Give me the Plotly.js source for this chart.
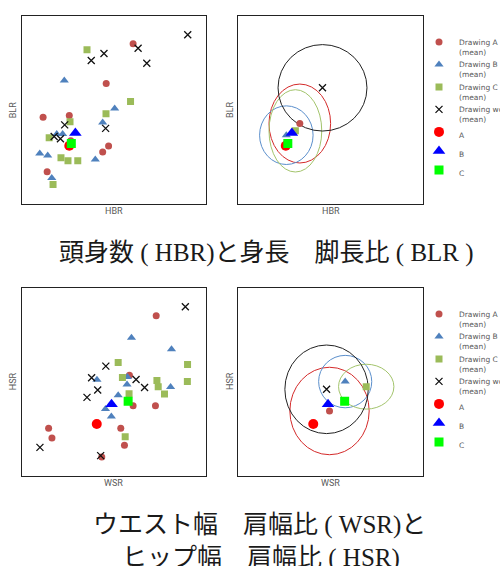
<!DOCTYPE html>
<html>
<head>
<meta charset="utf-8">
<script src="https://cdn.plot.ly/plotly-3.0.1.min.js"></script>
<style>html,body{margin:0;padding:0;background:#fff;}#chart{width:500px;height:566px;}</style>
</head>
<body>
<div id="chart"></div>
<script>
// ---- data (relative units) ----
const groupNames = ['Drawing A', 'Drawing B', 'Drawing C', 'Drawing work'];
const refNames = ['A', 'B', 'C'];

// HBR vs BLR (individual drawings)
const hbrA = [60.5, 45.9, 11.7, 25.9, 47.2, 44.0, 13.9, 26.7];
const blrA = [85.1, 64.0, 46.1, 47.0, 30.7, 27.5, 17.0, 33.5];
const hbrB = [23.2, 50.5, 44.0, 19.1, 22.3, 9.9, 14.2, 40.0, 16.4];
const blrB = [65.6, 50.7, 43.3, 37.1, 37.1, 26.8, 25.7, 23.6, 13.7];
const hbrC = [35.5, 59.1, 45.8, 26.3, 15.0, 21.4, 25.2, 30.5, 17.1];
const blrC = [81.9, 54.4, 47.9, 43.6, 35.1, 24.5, 22.9, 22.9, 10.3];
const hbrW = [90.1, 63.2, 67.9, 37.8, 44.7, 23.4, 45.6, 17.7, 21.1];
const blrW = [89.9, 82.8, 74.8, 76.2, 80.0, 42.0, 40.1, 35.8, 34.6];
// group means and spreads (A, B, C, work)
const hbrMean = [33.5, 26.2, 31.1, 45.8];
const blrMean = [42.7, 36.5, 38.8, 61.7];
const hbrSpread = [16.7, 14.5, 14.3, 24.1];
const blrSpread = [21.0, 15.6, 21.9, 23.0];
// reference figures A, B, C
const hbrRef = [25.9, 29.2, 27.0];
const blrRef = [30.9, 37.7, 32.1];

// WSR vs HSR (individual drawings)
const wsrA = [73.0, 58.5, 60.5, 72.6, 53.8, 14.7, 16.5, 55.8, 43.5];
const hsrA = [85.0, 53.5, 37.3, 37.3, 25.4, 25.4, 20.1, 16.3, 10.1];
const wsrB = [59.6, 81.3, 40.9, 57.4, 57.2, 80.8, 52.4, 45.5, 48.7];
const hsrB = [73.3, 67.3, 51.1, 52.5, 48.6, 47.2, 42.8, 35.5, 31.6];
const wsrC = [52.4, 90.0, 54.7, 73.4, 89.9, 74.1, 58.3, 77.5, 56.2];
const hsrC = [60.2, 59.2, 52.3, 50.7, 50.2, 47.3, 43.6, 43.5, 20.8];
const wsrW = [88.8, 45.7, 38.0, 62.1, 41.3, 66.7, 35.5, 10.0, 42.9];
const hsrW = [89.8, 58.3, 52.1, 51.2, 45.6, 47.0, 41.7, 15.2, 10.8];
const wsrMean = [49.6, 58.1, 69.5, 48.0];
const hsrMean = [34.5, 50.1, 47.4, 46.0];
const wsrSpread = [21.5, 14.4, 15.0, 22.6];
const hsrSpread = [23.2, 13.9, 11.9, 23.5];
const wsrRef = [40.8, 48.8, 57.8];
const hsrRef = [27.6, 38.1, 39.6];

// ---- styles ----
const grpColors = ['#c0504d', '#4f81bd', '#9bbb59', '#111111'];
const grpSymbols = ['circle', 'triangle-up', 'square', 'x-thin-open'];
const grpSizes = [7, 8, 7, 7];
const ellColors = ['#d42a2a', '#5b8fcc', '#a3c46c', '#222222'];
const refColors = ['#ff0000', '#0000ff', '#00ff00'];
const refSymbols = ['circle', 'triangle-up', 'square'];
const refSizes = [10, 11, 9];

function grpMarker(i) {
  const m = {color: grpColors[i], symbol: grpSymbols[i], size: grpSizes[i], line: {width: 0}};
  if (grpSymbols[i] === 'x-thin-open') m.line = {width: 1.3, color: grpColors[i]};
  return m;
}

const traces = [];
// panel 1 individual points
[[hbrA, blrA], [hbrB, blrB], [hbrC, blrC], [hbrW, blrW]].forEach((d, i) => {
  traces.push({type: 'scatter', mode: 'markers', x: d[0], y: d[1], xaxis: 'x', yaxis: 'y',
    marker: grpMarker(i), showlegend: false, name: groupNames[i]});
});
refNames.forEach((n, i) => {
  traces.push({type: 'scatter', mode: 'markers', x: [hbrRef[i]], y: [blrRef[i]], xaxis: 'x', yaxis: 'y',
    marker: {color: refColors[i], symbol: refSymbols[i], size: refSizes[i]}, showlegend: false, name: n});
});
// panel 2 means
groupNames.forEach((n, i) => {
  traces.push({type: 'scatter', mode: 'markers', x: [hbrMean[i]], y: [blrMean[i]], xaxis: 'x2', yaxis: 'y2',
    marker: grpMarker(i), name: n + '<br>(mean)', legend: 'legend'});
});
refNames.forEach((n, i) => {
  traces.push({type: 'scatter', mode: 'markers', x: [hbrRef[i]], y: [blrRef[i]], xaxis: 'x2', yaxis: 'y2',
    marker: {color: refColors[i], symbol: refSymbols[i], size: refSizes[i]}, name: n, legend: 'legend'});
});
// panel 3 individual points
[[wsrA, hsrA], [wsrB, hsrB], [wsrC, hsrC], [wsrW, hsrW]].forEach((d, i) => {
  traces.push({type: 'scatter', mode: 'markers', x: d[0], y: d[1], xaxis: 'x3', yaxis: 'y3',
    marker: grpMarker(i), showlegend: false, name: groupNames[i]});
});
refNames.forEach((n, i) => {
  traces.push({type: 'scatter', mode: 'markers', x: [wsrRef[i]], y: [hsrRef[i]], xaxis: 'x3', yaxis: 'y3',
    marker: {color: refColors[i], symbol: refSymbols[i], size: refSizes[i]}, showlegend: false, name: n});
});
// panel 4 means
groupNames.forEach((n, i) => {
  traces.push({type: 'scatter', mode: 'markers', x: [wsrMean[i]], y: [hsrMean[i]], xaxis: 'x4', yaxis: 'y4',
    marker: grpMarker(i), name: n + '<br>(mean)', legend: 'legend2'});
});
refNames.forEach((n, i) => {
  traces.push({type: 'scatter', mode: 'markers', x: [wsrRef[i]], y: [hsrRef[i]], xaxis: 'x4', yaxis: 'y4',
    marker: {color: refColors[i], symbol: refSymbols[i], size: refSizes[i]}, name: n, legend: 'legend2'});
});

// spread ellipses
const shapes = [];
groupNames.forEach((n, i) => {
  shapes.push({type: 'circle', xref: 'x2', yref: 'y2', layer: 'below',
    x0: hbrMean[i] - hbrSpread[i], x1: hbrMean[i] + hbrSpread[i],
    y0: blrMean[i] - blrSpread[i], y1: blrMean[i] + blrSpread[i],
    line: {color: ellColors[i], width: 1}});
  shapes.push({type: 'circle', xref: 'x4', yref: 'y4', layer: 'below',
    x0: wsrMean[i] - wsrSpread[i], x1: wsrMean[i] + wsrSpread[i],
    y0: hsrMean[i] - hsrSpread[i], y1: hsrMean[i] + hsrSpread[i],
    line: {color: ellColors[i], width: 1}});
});

function ax(domain, anchor) {
  return {domain: domain, anchor: anchor, range: [0, 100], showgrid: false, zeroline: false,
    showticklabels: false, ticks: '', showline: true, mirror: true, linecolor: '#222', linewidth: 1,
    fixedrange: true};
}
const xL = [0.043, 0.412], xR = [0.476, 0.845];
const yT = [0.640, 0.972], yB = [0.159, 0.492];

const axFont = {family: 'Roboto, sans-serif', size: 9, color: '#595959'};
const titleFont = {family: 'Liberation Serif, Noto Sans CJK JP, serif', size: 25, color: '#1a1a1a'};
function lab(text, x, y, angle) {
  return {text: text, xref: 'paper', yref: 'paper', x: x, y: y, xanchor: 'center', yanchor: 'middle',
    showarrow: false, font: axFont, textangle: angle || 0};
}
const annotations = [
  lab('HBR', 0.2276, 0.6272), lab('BLR', 0.0266, 0.8057, -90),
  lab('HBR', 0.661, 0.6272), lab('BLR', 0.460, 0.8057, -90),
  lab('WSR', 0.2266, 0.1466), lab('HSR', 0.0266, 0.3269, -90),
  lab('WSR', 0.660, 0.1466), lab('HSR', 0.460, 0.3269, -90),
  {text: '頭身数 ( HBR)と身長　脚長比 ( BLR )', xref: 'paper', yref: 'paper', x: 0.532, y: 0.553,
    xanchor: 'center', yanchor: 'middle', showarrow: false, font: titleFont},
  {text: 'ウエスト幅　肩幅比 ( WSR)と', xref: 'paper', yref: 'paper', x: 0.518, y: 0.0724,
    xanchor: 'center', yanchor: 'middle', showarrow: false, font: titleFont},
  {text: 'ヒップ幅　肩幅比 ( HSR)', xref: 'paper', yref: 'paper', x: 0.521, y: 0.0141,
    xanchor: 'center', yanchor: 'middle', showarrow: false, font: titleFont}
];

const legFont = {family: 'DejaVu Sans, sans-serif', size: 7.5, color: '#595959'};
const layout = {
  width: 500, height: 566,
  margin: {l: 0, r: 0, t: 0, b: 0, autoexpand: false},
  paper_bgcolor: '#ffffff', plot_bgcolor: '#ffffff',
  xaxis: ax(xL, 'y'), yaxis: ax(yT, 'x'),
  xaxis2: ax(xR, 'y2'), yaxis2: ax(yT, 'x2'),
  xaxis3: ax(xL, 'y3'), yaxis3: ax(yB, 'x3'),
  xaxis4: ax(xR, 'y4'), yaxis4: ax(yB, 'x4'),
  legend: {x: 0.838, y: 1 - 30.5 / 566, xanchor: 'left', yanchor: 'top', font: legFont, valign: 'top',
    bgcolor: 'rgba(0,0,0,0)', borderwidth: 0},
  legend2: {x: 0.838, y: 1 - 302.5 / 566, xanchor: 'left', yanchor: 'top', font: legFont, valign: 'top',
    bgcolor: 'rgba(0,0,0,0)', borderwidth: 0},
  shapes: shapes,
  annotations: annotations
};

Plotly.newPlot('chart', traces, layout, {staticPlot: true, displayModeBar: false});
</script>
</body>
</html>
